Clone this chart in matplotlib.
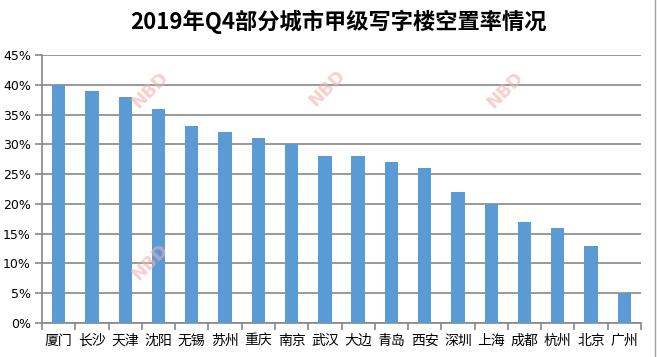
import matplotlib
matplotlib.use("Agg")
import matplotlib.pyplot as plt
import numpy as np

cities = ["厦门", "长沙", "天津", "沈阳", "无锡", "苏州", "重庆", "南京", "武汉",
          "大边", "青岛", "西安", "深圳", "上海", "成都", "杭州", "北京", "广州"]
vacancy = [40, 39, 38, 36, 33, 32, 31, 30, 28, 28, 27, 26, 22, 20, 17, 16, 13, 5]
yticks = [0, 5, 10, 15, 20, 25, 30, 35, 40, 45]
title = "2019年Q4部分城市甲级写字楼空置率情况"

cjk = ["Noto Sans CJK SC", "DejaVu Sans"]

fig = plt.figure(figsize=(6.57, 3.57), dpi=100)
ax = fig.add_axes([42/657, 1-323/357, (641-42)/657, (323-55)/357])

x = np.arange(len(cities))
ax.bar(x, vacancy, width=0.4, color="#5B9BD5", zorder=3)

ax.set_xlim(-0.5, len(cities)-0.5)
ax.set_ylim(0, 45)
ax.set_yticks(yticks)
ax.set_yticklabels([f"{v}%" for v in yticks], fontsize=9, family="DejaVu Sans")
ax.yaxis.grid(True, color="#878787", linewidth=1.2, zorder=0)
ax.set_axisbelow(True)

ax.set_xticks(x)
ax.set_xticklabels(cities, fontsize=10, family=cjk)
ax.set_xticks(np.arange(len(cities)+1)-0.5, minor=True)
ax.tick_params(axis="x", which="major", length=0, pad=8)
ax.tick_params(axis="x", which="minor", length=5, color="#878787", width=1.2)
ax.tick_params(axis="y", length=5, color="#878787", width=1.2, pad=3)

for s in ["top", "right"]:
    ax.spines[s].set_visible(False)
for s in ["left", "bottom"]:
    ax.spines[s].set_color("#878787")
    ax.spines[s].set_linewidth(1.2)

# watermarks
for (px, py) in [(150, 90), (327, 88), (505, 90), (150, 262)]:
    fig.text(px/657, 1-py/357, "NBD", rotation=45, fontsize=13, fontweight="bold",
             color="#F2B0B0", alpha=0.6, ha="center", va="center", zorder=1)

fig.text(338/657, 1-22/357, title, fontsize=16, fontweight="bold", family=cjk,
         ha="center", va="center")

# right border line
fig.add_artist(plt.Line2D([655/657, 655/657], [0, 1], color="#a0a0a0", linewidth=1))

fig.savefig("out.png", dpi=100)
